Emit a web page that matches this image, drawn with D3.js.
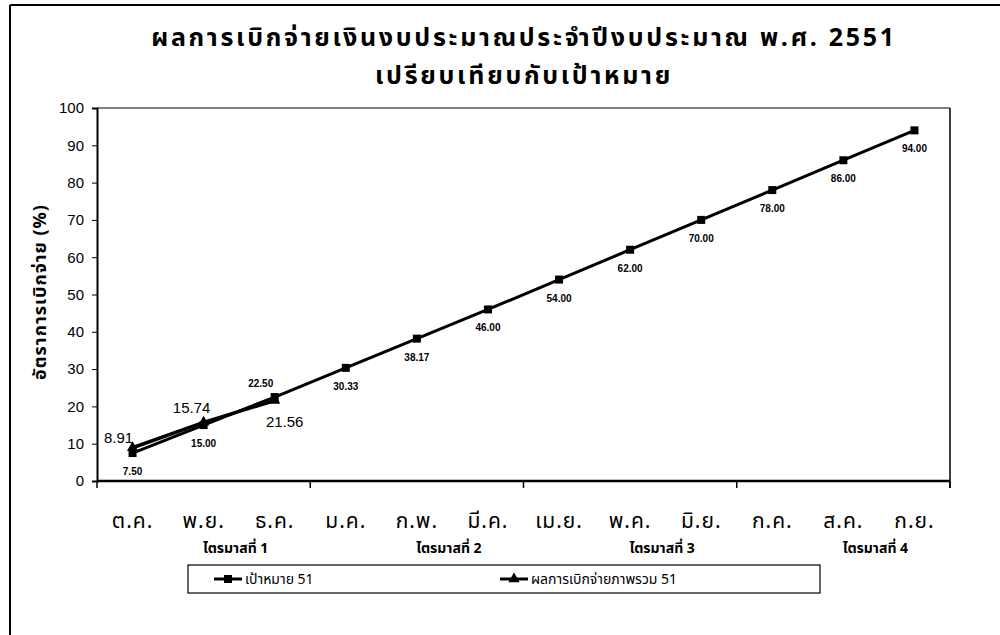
<!DOCTYPE html>
<html><head><meta charset="utf-8">
<script src="https://cdn.jsdelivr.net/npm/d3@7"></script>
<style>
html,body{margin:0;padding:0;background:#fff;}
svg{display:block;}
text{font-family:"Noto Sans Thai","Noto Sans Thai UI","Loma","Garuda","Tahoma","Arial",sans-serif;}
.num{font-family:"Liberation Sans",Arial,sans-serif;}
</style></head><body>
<svg id="c" width="1000" height="635"></svg>
<script>
const titleLines = ["ผลการเบิกจ่ายเงินงบประมาณประจำปีงบประมาณ พ.ศ. 2551", "เปรียบเทียบกับเป้าหมาย"];
const yTitle = "อัตราการเบิกจ่าย (%)";
const months = ["ต.ค.","พ.ย.","ธ.ค.","ม.ค.","ก.พ.","มี.ค.","เม.ย.","พ.ค.","มิ.ย.","ก.ค.","ส.ค.","ก.ย."];
const quarters = ["ไตรมาสที่ 1","ไตรมาสที่ 2","ไตรมาสที่ 3","ไตรมาสที่ 4"];
const target = [7.50,15.00,22.50,30.33,38.17,46.00,54.00,62.00,70.00,78.00,86.00,94.00];
const actual = [8.91,15.74,21.56];
const yTicks = [0,10,20,30,40,50,60,70,80,90,100];
const seriesNames = ["เป้าหมาย 51","ผลการเบิกจ่ายภาพรวม 51"];

const svg = d3.select("#c");
const L = 97, R = 950, T = 108, B = 481;

// outer border
svg.append("line").attr("x1",10).attr("x2",10).attr("y1",5).attr("y2",635).attr("stroke","#000").attr("stroke-width",2);
svg.append("line").attr("x1",10).attr("x2",1000).attr("y1",5).attr("y2",5).attr("stroke","#000").attr("stroke-width",2);

// title
titleLines.forEach((t,i)=>{
  svg.append("text").attr("x",524).attr("y",46+i*38).attr("text-anchor","middle")
    .attr("font-size",25).attr("font-weight","bold").attr("letter-spacing",2.7).attr("fill","#000").text(t);
});

const x = d3.scalePoint().domain(months).range([L,R]).padding(0.5);
const step = x.step();
const y = d3.scaleLinear().domain([0,100]).range([B,T]);

// plot area border (top & right)
svg.append("line").attr("x1",L).attr("x2",R).attr("y1",T).attr("y2",T).attr("stroke","#000").attr("stroke-width",1);
svg.append("line").attr("x1",R).attr("x2",R).attr("y1",T).attr("y2",B+7).attr("stroke","#000").attr("stroke-width",1.5);

// y axis
const ya = svg.append("g").attr("transform",`translate(${L},0)`)
  .call(d3.axisLeft(y).tickValues(yTicks).tickSize(5).tickPadding(8).tickFormat(d3.format("d")));
ya.select(".domain").attr("stroke-width",2);
ya.selectAll("text").attr("class","num").attr("font-size",15).attr("fill","#000");

// x axis: ticks at quarter boundaries
const qb = months.filter((d,i)=>i%3===0).map(d=>x(d)-step/2).concat([R]);
svg.append("line").attr("x1",L).attr("x2",R).attr("y1",B).attr("y2",B).attr("stroke","#000").attr("stroke-width",2.5);
svg.selectAll(".xt").data(qb).enter().append("line")
  .attr("x1",d=>d).attr("x2",d=>d).attr("y1",B).attr("y2",B+7).attr("stroke","#000").attr("stroke-width",1.5);

// month labels
svg.selectAll(".ml").data(months).enter().append("text")
  .attr("x",d=>x(d)).attr("y",B+47).attr("text-anchor","middle").attr("font-size",21)
  .attr("fill","#000").attr("letter-spacing",1).text(d=>d);

// quarter labels
svg.selectAll(".ql").data(quarters).enter().append("text")
  .attr("x",(d,i)=>x(months[i*3+1])+32).attr("y",B+72).attr("text-anchor","middle")
  .attr("font-size",14).attr("font-weight","bold").attr("fill","#000").text(d=>d);

// y title
svg.append("text").attr("transform",`translate(46,292) rotate(-90)`).attr("text-anchor","middle")
  .attr("font-size",18).attr("font-weight","bold").attr("letter-spacing",1).attr("fill","#000").text(yTitle);

// lines
const line = d3.line().x((d,i)=>x(months[i])).y(d=>y(d));
svg.append("path").datum(target).attr("d",line).attr("fill","none").attr("stroke","#000").attr("stroke-width",3);
svg.append("path").datum(actual).attr("d",line).attr("fill","none").attr("stroke","#000").attr("stroke-width",3.5);

// markers
svg.selectAll(".sq").data(target).enter().append("rect")
  .attr("x",(d,i)=>x(months[i])-4).attr("y",d=>y(d)-4).attr("width",8).attr("height",8).attr("fill","#000");
const tri = d3.symbol().type(d3.symbolTriangle).size(55);
svg.selectAll(".tr").data(actual).enter().append("path").attr("d",tri)
  .attr("transform",(d,i)=>`translate(${x(months[i])},${y(d)})`).attr("fill","#000");

// target labels
svg.selectAll(".tl").data(target).enter().append("text").attr("class","num")
  .attr("x",(d,i)=>x(months[i]) + (i===2?-14:0))
  .attr("y",(d,i)=> i===2 ? y(d)-10 : y(d)+22)
  .attr("text-anchor","middle").attr("font-size",10).attr("font-weight","bold").attr("fill","#000")
  .text(d=>d.toFixed(2));

// actual labels
const aOff = [[-14,-5],[-12,-9],[10,26]];
svg.selectAll(".al").data(actual).enter().append("text").attr("class","num")
  .attr("x",(d,i)=>x(months[i])+aOff[i][0]).attr("y",(d,i)=>y(d)+aOff[i][1])
  .attr("text-anchor","middle").attr("font-size",15).attr("fill","#000")
  .text(d=>d.toFixed(2));

// legend
const lg = svg.append("g");
lg.append("rect").attr("x",188).attr("y",565).attr("width",632).attr("height",28)
  .attr("fill","none").attr("stroke","#000").attr("stroke-width",1.2);
const lx = [214, 500];
seriesNames.forEach((n,i)=>{
  const cy = 579;
  lg.append("line").attr("x1",lx[i]).attr("x2",lx[i]+28).attr("y1",cy).attr("y2",cy).attr("stroke","#000").attr("stroke-width",3);
  if(i===0) lg.append("rect").attr("x",lx[i]+10).attr("y",cy-4).attr("width",8).attr("height",8).attr("fill","#000");
  else lg.append("path").attr("d",tri).attr("transform",`translate(${lx[i]+14},${cy})`).attr("fill","#000");
  lg.append("text").attr("x",lx[i]+31).attr("y",cy+5).attr("font-size",14).attr("fill","#000").text(n);
});
</script></body></html>
